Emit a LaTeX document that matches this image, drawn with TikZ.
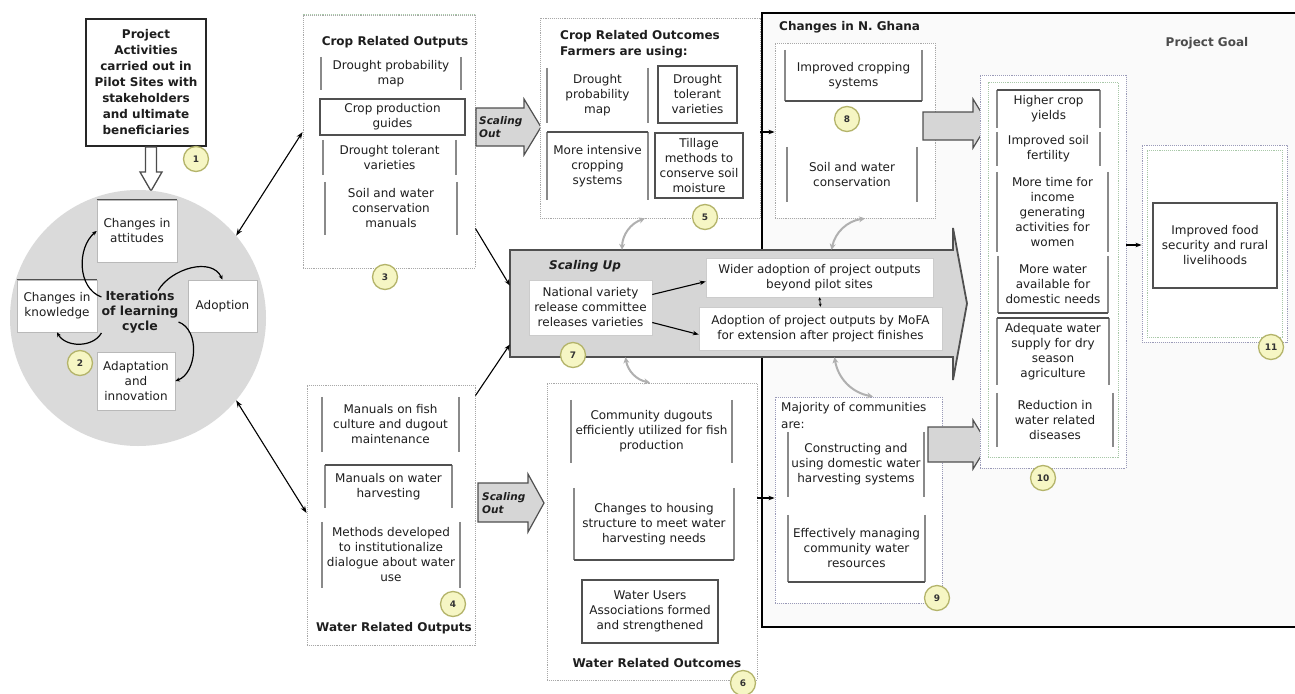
\documentclass[tikz,border=0pt]{standalone}
\usepackage{fontspec}
\setmainfont{DejaVu Sans}
\usetikzlibrary{arrows.meta,calc}
\definecolor{badgefill}{HTML}{F6F6C4}
\definecolor{badgeline}{HTML}{B4B46A}
\definecolor{cyclegray}{HTML}{DADADA}
\definecolor{arrowgray}{HTML}{D6D6D6}
\definecolor{dotgray}{HTML}{A8A8A8}
\definecolor{dotblue}{HTML}{9A9AB8}
\definecolor{dotgreen}{HTML}{A8C8A8}
\definecolor{sidegray}{HTML}{8A8A8A}
\definecolor{edgedark}{HTML}{505050}
\definecolor{curvegray}{HTML}{B0B0B0}
\definecolor{txtc}{HTML}{1E1E1E}
\newcommand\vsides[1]{\draw[side] (#1.north west) -- (#1.south west) (#1.north east) -- (#1.south east);}
\newcommand\topedge[1]{\draw[edge] (#1.north west) -- (#1.north east);}
\newcommand\botedge[1]{\draw[edge] (#1.south west) -- (#1.south east);}
\begin{document}
\begin{tikzpicture}[x=1pt,y=-1pt,
  every node/.style={font=\fontsize{12}{15}\selectfont, align=center, inner sep=0pt, text=txtc},
  sz/.style 2 args={minimum width=#1, minimum height=#2},
  dots/.style={draw=dotgray, densely dotted, line width=0.9pt, fill=white},
  side/.style={draw=sidegray, line width=1.5pt},
  edge/.style={draw=edgedark, line width=1.6pt},
  fullb/.style={draw=edgedark, line width=1.2pt, fill=white},
  cbox/.style={fill=white, draw=gray!55, line width=0.7pt},
  wbox/.style={fill=white, draw=gray!40, line width=0.6pt},
  title/.style={font=\fontsize{12}{16}\selectfont\bfseries},
  so/.style={font=\fontsize{10.5}{13}\selectfont\bfseries\itshape, align=left},
  badge/.style={circle, fill=badgefill, draw=badgeline, line width=1.3pt, minimum size=25pt, font=\fontsize{9}{9}\selectfont\bfseries, text=black!80},
  blockarrow/.style={fill=arrowgray, draw=edgedark, line width=1.2pt},
  sarr/.style={-{Stealth[length=6pt,width=4.5pt]}, line width=1.1pt, black},
  dbl/.style={{Stealth[length=7pt,width=5pt]}-{Stealth[length=7pt,width=5pt]}, line width=1.1pt, black},
  cyc/.style={-{Stealth[length=4.5pt,width=4pt]}, line width=1.2pt, black},
  garr/.style={{Stealth[length=6pt,width=6pt]}-{Stealth[length=6pt,width=6pt]}, line width=2pt, curvegray}
]
\useasboundingbox (0,0) rectangle (1295,693);
\fill[white] (0,0) rectangle (1295,693);

% ---------- big N. Ghana frame ----------
\node[sz={538}{614}, draw=black, line width=1.6pt, fill=gray!4] (ghana) at (1031,320) {};
\node[title, anchor=west] (ghanat) at (779,27) {Changes in N. Ghana};
\node[title, text=black!70] (goalt) at (1207,43) {Project Goal};

% ---------- project activities ----------
\node[sz={120}{127}, draw=black!85, line width=2pt, fill=white, font=\fontsize{12}{16}\selectfont\bfseries] (act) at (146,82.5)
  {Project\\Activities\\carried out in\\Pilot Sites with\\stakeholders\\and ultimate\\beneficiaries};
\draw[line width=1.3pt, draw=black!70, fill=white] (145.5,147) -- (156.5,147) -- (156.5,172) -- (162,172) -- (151,191) -- (140,172) -- (145.5,172) -- cycle;

% ---------- learning cycle ----------
\node[circle, fill=cyclegray, minimum size=256pt] (cycle) at (138,318) {};
\node[sz={80}{62}, cbox] (att) at (137,231) {Changes in\\attitudes};
\topedge{att}
\node[sz={80}{52}, cbox] (know) at (57,306) {Changes in\\knowledge};
\topedge{know}
\node[sz={69}{52}, cbox] (adopt) at (222.5,306) {Adoption};
\node[sz={78}{58}, cbox] (adapt) at (136,381) {Adaptation\\and\\innovation};
\node[font=\fontsize{12.5}{15}\selectfont\bfseries] (iter) at (140,312) {Iterations\\of learning\\cycle};
\draw[cyc] ([yshift=15pt]iter.west) to[out=160,in=220] (att.west);
\draw[cyc] ([xshift=18pt]iter.north) to[out=60,in=115] (adopt.north);
\draw[cyc] ([yshift=-10pt]iter.east) to[out=-20,in=20] (adapt.east);
\draw[cyc] ([yshift=-21pt]iter.west) to[out=-120,in=-60] (know.south);

% ---------- crop related outputs ----------
\node[dots, sz={172}{253}] (cout) at (389,141.5) {};
\draw[dotgreen, densely dotted, line width=0.9pt] (cout.north west) -- (cout.north east);
\node[title] (coutt) at (395,42) {Crop Related Outputs};
\node[sz={140}{33}] (co1) at (391,73.5) {Drought probability\\map};
\vsides{co1}
\node[sz={145}{36}, fullb] (co2) at (392.5,117) {Crop production\\guides};
\node[sz={133}{35}] (co3) at (389.5,157.5) {Drought tolerant\\varieties};
\vsides{co3}
\node[sz={132}{53}] (co4) at (391,208.5) {Soil and water\\conservation\\manuals};
\vsides{co4}

% ---------- water related outputs ----------
\node[dots, sz={168}{260}] (wout) at (391,515) {};
\node[sz={137}{55}] (wo1) at (390.5,424.5) {Manuals on fish\\culture and dugout\\maintenance};
\vsides{wo1}
\node[sz={127}{43}] (wo2) at (388.5,486.5) {Manuals on water\\harvesting};
\vsides{wo2}
\topedge{wo2}
\node[sz={138}{66}] (wo3) at (391,555) {Methods developed\\to institutionalize\\dialogue about water\\use};
\vsides{wo3}
\node[title] (woutt) at (394,628) {Water Related Outputs};

% ---------- scaling out arrows ----------
\draw[blockarrow] (476,108) -- (524,108) -- (524,99) -- (541,127) -- (524,155) -- (524,146) -- (476,146) -- cycle;
\node[so, anchor=west] (so1) at (479,127) {Scaling\\Out};
\draw[blockarrow] (478,483) -- (528,483) -- (528,474) -- (544,503) -- (528,532) -- (528,522) -- (478,522) -- cycle;
\node[so, anchor=west] (so2) at (482,503) {Scaling\\Out};

% ---------- crop related outcomes ----------
\node[dots, sz={220}{200}] (cout2) at (650,118) {};
\node[title, anchor=west, align=left] (cout2t) at (560,44) {Crop Related Outcomes\\Farmers are using:};
\node[sz={101}{55}] (c1) at (597.5,95.5) {Drought\\probability\\map};
\vsides{c1}
\node[sz={79}{57}, fullb] (c2) at (697.5,94.5) {Drought\\tolerant\\varieties};
\topedge{c2}
\node[sz={101}{68}] (c3) at (597.5,166) {More intensive\\cropping\\systems};
\vsides{c3}
\topedge{c3}
\node[sz={88}{65}, fullb] (c4) at (699,165.5) {Tillage\\methods to\\conserve soil\\moisture};

% ---------- water related outcomes ----------
\node[dots, sz={210}{297}] (wout2) at (652,531.5) {};
\node[sz={161}{63}] (wc1) at (651.5,431.5) {Community dugouts\\efficiently utilized for fish\\production};
\vsides{wc1}
\node[sz={160}{72}] (wc2) at (654,524) {Changes to housing\\structure to meet water\\harvesting needs};
\vsides{wc2}
\botedge{wc2}
\node[sz={136}{63}, fullb] (wc3) at (650,611.5) {Water Users\\Associations formed\\and strengthened};
\node[title] (wout2t) at (657,663) {Water Related Outcomes};

% ---------- changes: crops ----------
\node[dots, sz={160}{175}] (cch) at (855,130.5) {};
\node[sz={137}{51}] (ch1) at (853.5,75.5) {Improved cropping\\systems};
\vsides{ch1}
\draw[edge, line width=2.2pt] (ch1.south west) -- (ch1.south east);
\node[sz={130}{55}] (ch2) at (852,174.5) {Soil and water\\conservation};
\vsides{ch2}
\draw[blockarrow] (923,112) -- (973,112) -- (973,99) -- (988,123.5) -- (973,148) -- (973,140) -- (923,140) -- cycle;

% ---------- changes: water ----------
\node[dots, draw=dotblue, sz={167}{206}] (wch) at (858.5,500) {};
\node[anchor=west, align=left, font=\fontsize{12}{17}\selectfont] (wcht) at (781,415.5) {Majority of communities\\are:};
\node[sz={136}{65}] (wh1) at (856,464.5) {Constructing and\\using domestic water\\harvesting systems};
\vsides{wh1}
\node[sz={137}{67}] (wh2) at (856.5,548.5) {Effectively managing\\community water\\resources};
\vsides{wh2}
\botedge{wh2}
\draw[blockarrow] (928,427) -- (973,427) -- (973,420) -- (988,444.5) -- (973,469) -- (973,462) -- (928,462) -- cycle;

% ---------- outcomes (10) ----------
\node[dots, draw=dotblue, sz={146}{393}] (out) at (1053,271.5) {};
\node[dots, draw=dotgreen, sz={130}{375}] (outin) at (1053,269.5) {};
\node[sz={103}{38}] (o1) at (1048.5,109) {Higher crop\\yields};
\vsides{o1}
\topedge{o1}
\node[sz={103}{34}] (o2) at (1048.5,149) {Improved soil\\fertility};
\vsides{o2}
\node[sz={111}{80}] (o3) at (1052.5,212) {More time for\\income\\generating\\activities for\\women};
\vsides{o3}
\node[sz={110}{57}] (o4) at (1053,284.5) {More water\\available for\\domestic needs};
\vsides{o4}
\botedge{o4}
\node[sz={112}{67}] (o5) at (1053,351.5) {Adequate water\\supply for dry\\season\\agriculture};
\vsides{o5}
\topedge{o5}
\node[sz={116}{54}] (o6) at (1055,420) {Reduction in\\water related\\diseases};
\vsides{o6}

% ---------- goal (11) ----------
\node[dots, draw=dotblue, sz={145}{197}] (goal) at (1214.5,243.5) {};
\node[dots, draw=dotgreen, sz={135}{187}] (goalin) at (1214.5,243.5) {};
\node[sz={124}{85}, fullb] (food) at (1215,245.5) {Improved food\\security and rural\\livelihoods};

% ---------- scaling up ----------
\draw[fill=arrowgray, draw=edgedark, line width=1.8pt] (510,250) -- (953,250) -- (953,228) -- (967,303.5) -- (953,380) -- (953,357) -- (510,357) -- cycle;
\node[sz={443}{107}] (sup) at (731.5,303.5) {};
\node[font=\fontsize{12}{15}\selectfont\bfseries\itshape] (supt) at (585,266) {Scaling Up};
\node[sz={123}{55}, wbox] (nat) at (590.5,307.5) {National variety\\release committee\\releases varieties};
\node[sz={227}{39}, wbox] (wider) at (819.5,277.5) {Wider adoption of project outputs\\beyond pilot sites};
\node[sz={243}{43}, wbox] (mofa) at (820.5,328.5) {Adoption of project outputs by MoFA\\for extension after project finishes};
\draw[sarr] ([yshift=13pt]nat.east) -- ([yshift=-4pt]wider.west);
\draw[sarr] ([yshift=-15pt]nat.east) -- ([yshift=-6pt]mofa.west);
\draw[{Stealth[length=3pt,width=3pt]}-{Stealth[length=3pt,width=3pt]}, line width=0.9pt] (wider.south) -- (mofa.north);

% ---------- connectors ----------
\draw[dbl] (cycle.40) -- ([yshift=9.5pt]cout.west);
\draw[dbl] (cycle.-40) -- ([yshift=2pt]wout.west);
\draw[sarr] ([yshift=40pt]cout.south east) -- ([yshift=18pt]sup.west);
\draw[sarr] ([yshift=-11pt]wout.north east) -- ([yshift=-41pt]sup.west);
\path ([yshift=-14pt]cout2.east) coordinate (p1);
\draw[sarr] (p1) -- (p1 -| cch.west);
\path ([yshift=33.5pt]wout2.east) coordinate (p2);
\draw[sarr] (p2) -- (p2 -| wch.west);
\path ([yshift=26.5pt]out.east) coordinate (p3);
\draw[sarr] (p3) -- (p3 -| goal.west);
\draw[garr] ([xshift=-109.5pt]sup.north) to[bend left=35] ([xshift=-5pt]cout2.south);
\draw[garr] ([xshift=-106pt]sup.south) to[bend right=35] ([xshift=-2pt]wout2.north);
\draw[garr] ([xshift=100pt]sup.north) to[bend left=35] ([xshift=10pt]cch.south);
\draw[garr] ([xshift=103pt]sup.south) to[bend right=35] ([xshift=14.5pt]wch.north);

% ---------- badges ----------
\node[badge] (b1) at (196,159) {1};
\node[badge] (b2) at (80,363) {2};
\node[badge] (b3) at (385,277) {3};
\node[badge] (b4) at (453,604) {4};
\node[badge] (b5) at (705,217) {5};
\node[badge] (b6) at (743,683) {6};
\node[badge] (b7) at (573,355) {7};
\node[badge] (b8) at (847,119) {8};
\node[badge] (b9) at (937,598) {9};
\node[badge] (b10) at (1043,478) {10};
\node[badge] (b11) at (1271,347) {11};
\end{tikzpicture}
\end{document}
